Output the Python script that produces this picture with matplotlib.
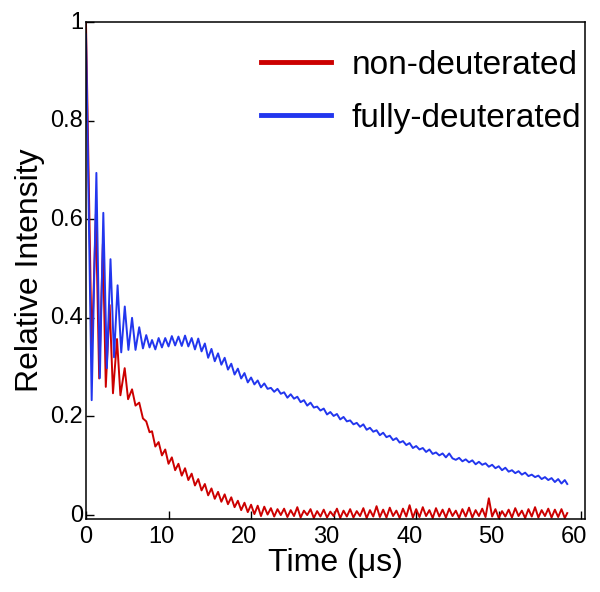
import matplotlib
matplotlib.use("Agg")
import matplotlib.pyplot as plt
import matplotlib.transforms as mtransforms
import numpy as np

plt.rcParams['font.family'] = ['Liberation Sans', 'DejaVu Sans']

# early part: peaks / troughs of the oscillation
t_early_full = [0.0, 0.69, 1.26, 1.68, 2.1, 2.53, 2.97, 3.4, 3.83, 4.27,
                4.7, 5.14, 5.58, 6.0, 6.45, 6.9, 7.3, 7.7]
full_early = [0.975, 0.233, 0.694, 0.278, 0.613, 0.298, 0.519, 0.32, 0.466, 0.33,
              0.423, 0.335, 0.40, 0.335, 0.381, 0.338, 0.365, 0.34]

t_early_non = [0.0, 0.7, 1.2, 1.6, 2.05, 2.4, 2.87, 3.27, 3.76, 4.17,
               4.69, 5.1, 5.58, 6.0, 6.45, 6.9, 7.3, 7.7]
non_early = [1.0, 0.33, 0.61, 0.277, 0.55, 0.26, 0.426, 0.247, 0.357, 0.243,
             0.298, 0.235, 0.255, 0.222, 0.228, 0.196, 0.19, 0.168]

# later part, every 0.4 us
t_late = [8.0, 8.4, 8.8, 9.2, 9.6, 10.0, 10.4, 10.8, 11.2, 11.6,
          12.0, 12.4, 12.8, 13.2, 13.6, 14.0, 14.4, 14.8, 15.2, 15.6,
          16.0, 16.4, 16.8, 17.2, 17.6, 18.0, 18.4, 18.8, 19.2, 19.6,
          20.0, 20.4, 20.8, 21.2, 21.6, 22.0, 22.4, 22.8, 23.2, 23.6,
          24.0, 24.4, 24.8, 25.2, 25.6, 26.0, 26.4, 26.8, 27.2, 27.6,
          28.0, 28.4, 28.8, 29.2, 29.6, 30.0, 30.4, 30.8, 31.2, 31.6,
          32.0, 32.4, 32.8, 33.2, 33.6, 34.0, 34.4, 34.8, 35.2, 35.6,
          36.0, 36.4, 36.8, 37.2, 37.6, 38.0, 38.4, 38.8, 39.2, 39.6,
          40.0, 40.4, 40.8, 41.2, 41.6, 42.0, 42.4, 42.8, 43.2, 43.6,
          44.0, 44.4, 44.8, 45.2, 45.6, 46.0, 46.4, 46.8, 47.2, 47.6,
          48.0, 48.4, 48.8, 49.2, 49.6, 50.0, 50.4, 50.8, 51.2, 51.6,
          52.0, 52.4, 52.8, 53.2, 53.6, 54.0, 54.4, 54.8, 55.2, 55.6,
          56.0, 56.4, 56.8, 57.2, 57.6, 58.0, 58.3]

full_late = [0.355, 0.336, 0.359, 0.340, 0.359, 0.342, 0.363, 0.344, 0.362, 0.343,
             0.364, 0.342, 0.359, 0.336, 0.358, 0.332, 0.348, 0.319, 0.337, 0.312,
             0.328, 0.305, 0.319, 0.295, 0.307, 0.285, 0.297, 0.277, 0.288, 0.269,
             0.279, 0.265, 0.273, 0.259, 0.267, 0.256, 0.258, 0.250, 0.256, 0.246,
             0.249, 0.238, 0.245, 0.236, 0.240, 0.229, 0.233, 0.222, 0.228, 0.218,
             0.220, 0.212, 0.216, 0.204, 0.209, 0.201, 0.205, 0.194, 0.199, 0.190,
             0.192, 0.184, 0.187, 0.179, 0.184, 0.173, 0.177, 0.169, 0.172, 0.162,
             0.167, 0.158, 0.161, 0.152, 0.156, 0.147, 0.150, 0.142, 0.146, 0.136,
             0.140, 0.133, 0.136, 0.128, 0.133, 0.124, 0.127, 0.121, 0.125, 0.117,
             0.125, 0.115, 0.112, 0.116, 0.109, 0.113, 0.107, 0.111, 0.103, 0.108,
             0.102, 0.105, 0.098, 0.102, 0.095, 0.099, 0.091, 0.096, 0.088, 0.091,
             0.085, 0.089, 0.082, 0.086, 0.079, 0.082, 0.077, 0.080, 0.073, 0.077,
             0.071, 0.075, 0.067, 0.073, 0.064, 0.071, 0.063]

non_late = [0.170, 0.139, 0.148, 0.121, 0.133, 0.104, 0.117, 0.091, 0.104, 0.080,
            0.095, 0.071, 0.084, 0.060, 0.073, 0.050, 0.063, 0.040, 0.054, 0.033,
            0.047, 0.027, 0.042, 0.022, 0.036, 0.016, 0.029, 0.010, 0.025, 0.006,
            0.021, 0.002, 0.019, -0.002, 0.017, 0.001, 0.014, -0.003, 0.012, 0.000,
            0.013, -0.004, 0.010, -0.002, 0.016, -0.005, 0.009, 0.000, 0.012, -0.006,
            0.008, -0.003, 0.011, -0.005, 0.007, -0.002, 0.013, -0.006, 0.009, -0.003,
            0.012, -0.005, 0.008, -0.002, 0.014, -0.006, 0.010, -0.003, 0.018, -0.004,
            0.011, -0.005, 0.015, -0.002, 0.009, -0.006, 0.013, -0.003, 0.020, -0.005,
            0.012, -0.004, 0.016, -0.002, 0.010, -0.006, 0.014, -0.003, 0.011, -0.005,
            0.013, -0.002, 0.009, -0.006, 0.012, -0.003, 0.015, -0.005, 0.010, -0.002,
            0.013, -0.004, 0.034, -0.003, 0.012, -0.006, 0.008, -0.003, 0.011, -0.005,
            0.014, -0.002, 0.009, -0.006, 0.012, -0.003, 0.016, -0.005, 0.010, -0.002,
            0.013, -0.005, 0.011, -0.004, 0.012, -0.006, 0.004]

t_full = t_early_full + t_late
y_full = full_early + full_late
t_non = t_early_non + t_late
y_non = non_early + non_late

red = '#cc0000'
blue = '#2236ee'

fig = plt.figure(figsize=(6.0, 5.92), dpi=100)
ax = fig.add_axes([0.1433, 0.1233, 0.8317, 0.8395])

ax.plot(t_non, y_non, color=red, lw=1.4, label='non-deuterated')
ax.plot(t_full, y_full, color=blue, lw=1.4, label='fully-deuterated')

ax.set_xlim(0, 60.45)
ax.set_ylim(-0.008, 1.0)
ax.set_xticks([0, 10, 20, 30, 40, 50, 60])
ax.set_yticks([0, 0.2, 0.4, 0.6, 0.8, 1.0])
ax.set_yticklabels(['0', '0.2', '0.4', '0.6', '0.8', '1'])
ax.tick_params(direction='in', length=6, width=1.0, labelsize=17)
ax.tick_params(axis='x', pad=5)
ax.tick_params(axis='y', pad=2)
for s in ax.spines.values():
    s.set_linewidth(1.1)

# tick labels in the original sit slightly left of / above their ticks
for lab in ax.get_xticklabels()[1:]:
    lab.set_transform(lab.get_transform() +
                      mtransforms.ScaledTranslation(-7 / 100, 0, fig.dpi_scale_trans))
for lab in ax.get_yticklabels():
    lab.set_transform(lab.get_transform() +
                      mtransforms.ScaledTranslation(0, 2 / 100, fig.dpi_scale_trans))

ax.set_xlabel('Time (μs)', fontsize=23, labelpad=0)
ax.set_ylabel('Relative Intensity', fontsize=23, labelpad=4)

leg = ax.legend(loc='upper right', bbox_to_anchor=(1.032, 0.984), frameon=False,
                fontsize=24, handlelength=2.1, handletextpad=0.6,
                labelspacing=0.66, borderaxespad=0.2)
for h in leg.get_lines():
    h.set_linewidth(3.5)

fig.savefig('out.png', dpi=100)
